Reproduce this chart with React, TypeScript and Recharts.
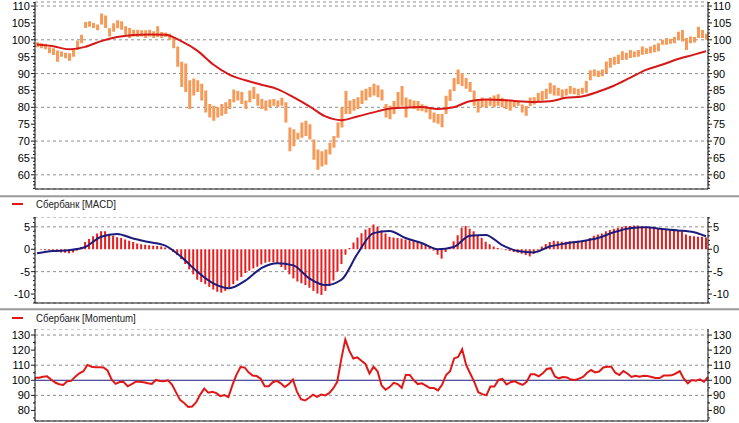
import { Bar, CartesianGrid, ComposedChart, Line, ReferenceLine, XAxis, YAxis } from "recharts";

// trading-day index 0..167, month boundaries for the vertical grid
const MONTH_TICKS = [4, 17, 30, 43, 55, 68, 81, 93, 106, 119, 131, 144, 156];

const PRICE_LOW = [
  97.8, 97.5, 97.2, 96.0, 95.5, 93.5, 95.0, 94.5, 93.8, 95.0, 97.0, 99.0, 103.5, 103.9, 103.5, 102.8,
  104.5, 103.5, 101.0, 102.4, 103.4, 103.0, 101.5, 100.5, 101.0, 100.8, 101.0, 100.5, 101.0, 100.5,
  100.8, 100.5, 100.8, 100.0, 97.5, 92.0, 86.0, 84.5, 79.5, 83.5, 84.5, 82.0, 78.5, 77.0, 76.0, 77.0,
  77.5, 78.0, 79.5, 81.5, 82.0, 81.0, 79.5, 81.5, 82.5, 80.5, 79.5, 79.0, 80.0, 80.5, 80.0, 80.5,
  75.5, 67.0, 68.5, 70.5, 71.0, 71.5, 70.5, 64.5, 61.5, 62.5, 63.0, 66.0, 68.0, 71.0, 74.0, 78.0,
  78.0, 79.0, 79.5, 81.0, 82.0, 83.0, 83.5, 83.0, 82.0, 77.0, 76.5, 78.0, 80.0, 80.5, 77.0, 80.0,
  79.5, 79.0, 78.8, 78.5, 76.5, 75.5, 75.1, 74.1, 78.0, 81.9, 84.8, 86.8, 86.3, 85.5, 84.5, 80.5,
  78.5, 80.0, 80.0, 80.5, 80.0, 80.5, 80.0, 79.5, 79.0, 80.0, 80.5, 78.5, 77.5, 80.4, 80.8, 81.9,
  82.0, 82.5, 84.0, 83.5, 83.4, 82.9, 83.5, 84.0, 83.9, 83.5, 84.0, 84.3, 88.0, 89.2, 89.0, 89.2,
  90.2, 91.7, 92.6, 92.8, 94.0, 94.1, 94.6, 94.8, 95.0, 95.6, 95.8, 96.0, 96.3, 96.6, 98.5, 98.5,
  98.8, 99.0, 100.0, 99.5, 97.0, 99.0, 99.2, 100.5, 100.5, 100.0,
];

const PRICE_HIGH = [
  99.3, 99.0, 98.8, 97.8, 97.5, 96.8, 96.5, 96.2, 96.0, 97.5, 99.8, 101.5, 105.3, 105.5, 105.0, 104.5,
  107.8, 107.2, 103.4, 104.9, 105.8, 105.5, 104.0, 103.5, 103.0, 103.0, 102.8, 102.8, 103.0, 102.5,
  104.0, 102.3, 102.2, 101.8, 100.5, 98.0, 93.5, 93.0, 88.0, 88.5, 88.0, 87.0, 85.0, 81.0, 80.5, 80.0,
  81.0, 81.5, 82.5, 85.3, 84.8, 84.5, 82.0, 85.0, 86.0, 84.0, 82.5, 82.0, 82.3, 82.5, 82.0, 82.8,
  81.5, 74.0, 73.5, 72.5, 75.5, 76.0, 75.0, 70.5, 67.5, 67.0, 67.5, 69.5, 71.5, 75.5, 80.0, 84.8,
  82.0, 82.5, 83.0, 85.0, 85.5, 86.0, 87.0, 86.5, 85.3, 81.0, 80.5, 81.9, 84.5, 86.3, 82.9, 82.4,
  82.0, 81.9, 80.9, 80.5, 80.0, 78.5, 78.0, 78.0, 83.4, 85.3, 88.7, 91.2, 90.2, 88.7, 87.5, 85.0,
  82.5, 82.9, 82.5, 83.0, 83.5, 83.9, 82.8, 82.4, 82.0, 82.0, 81.8, 80.8, 80.4, 82.9, 83.0, 84.3,
  84.8, 85.5, 87.3, 86.5, 85.8, 85.3, 85.5, 86.3, 85.8, 85.5, 85.8, 87.8, 91.0, 91.2, 90.8, 91.2,
  93.6, 94.6, 95.0, 95.6, 96.6, 96.2, 97.0, 96.5, 97.0, 98.0, 97.5, 98.0, 98.5, 99.0, 100.0, 100.5,
  100.3, 100.8, 102.4, 102.9, 100.5, 101.0, 100.8, 103.9, 102.9, 101.8,
];

// smooth lines are read every 4th day
const SAMPLE_IDX = [
  0, 4, 8, 12, 16, 20, 24, 28, 32, 36, 40, 44, 48, 52, 56, 60, 64, 68, 72, 76, 80, 84,
  88, 92, 96, 100, 104, 108, 112, 116, 120, 124, 128, 132, 136, 140, 144, 148, 152, 156, 160, 164, 167,
];

const PRICE_MA = [
  98.6, 98.1, 97.2, 97.9, 99.6, 100.8, 101.4, 101.6, 101.5, 99.6, 96.8, 92.7, 89.7, 88.0, 86.7, 85.4,
  83.0, 80.3, 77.3, 76.2, 77.3, 78.5, 79.6, 79.9, 80.1, 79.5, 80.0, 81.8, 82.3, 82.2, 81.8, 81.6,
  81.8, 82.8, 83.2, 84.6, 86.4, 88.7, 91.1, 92.6, 94.3, 95.6, 96.6,
];

const MACD_LINE = [
  -0.9, -0.4, -0.2, 0.5, 2.8, 3.4, 2.4, 1.6, 0.8, -1.7, -5.0, -7.6, -8.7, -7.0, -4.2, -3.1,
  -3.6, -6.5, -8.0, -6.8, -1.0, 3.6, 4.1, 2.5, 1.4, 0.0, 0.5, 3.0, 3.2, 1.0, -0.4, -0.7,
  0.6, 1.3, 1.8, 2.5, 3.8, 4.7, 4.9, 4.5, 4.2, 3.8, 2.9,
];

const MACD_HIST = [
  0.0, -0.1, -0.2, -0.2, -0.4, -0.5, -0.7, -0.8, -0.9, -0.7, -0.3, 0.5, 1.6, 2.3, 2.9, 3.5,
  4.0, 4.0, 3.3, 3.0, 2.7, 2.5, 2.2, 1.9, 1.6, 1.3, 1.1, 1.0, 0.9, 0.8, 0.7, 0.6,
  0.4, 0.1, -0.6, -1.3, -2.2, -3.3, -4.5, -5.6, -6.8, -7.3, -7.8, -8.4, -9.0, -9.5, -9.7, -9.3,
  -8.5, -7.8, -7.0, -6.2, -5.3, -4.8, -4.3, -3.9, -3.4, -3.0, -2.8, -2.9, -3.3, -4.0, -4.6, -5.6,
  -6.5, -7.2, -7.6, -8.0, -8.6, -9.3, -9.9, -10.2, -9.3, -8.2, -7.0, -5.0, -3.3, -1.2, 0.3, 1.5,
  2.6, 3.6, 4.4, 4.8, 5.5, 5.0, 4.2, 3.5, 2.8, 2.6, 2.5, 2.4, 2.2, 2.0, 1.8, 1.6,
  1.3, 1.0, 0.6, -0.3, -1.2, -2.1, -0.6, 0.5, 1.8, 3.1, 4.8, 5.2, 4.6, 4.0, 3.2, 2.5,
  1.7, 1.1, 0.6, 0.3, 0.1, -0.2, -0.4, -0.6, -0.8, -1.0, -1.3, -1.6, -1.0, -0.2, 0.6, 1.2,
  1.6, 1.9, 1.8, 1.7, 1.7, 1.8, 1.8, 1.9, 1.9, 2.0, 2.5, 3.0, 3.3, 3.5, 4.0, 4.3,
  4.6, 4.8, 5.0, 5.2, 5.2, 5.3, 5.3, 5.2, 5.1, 4.9, 4.7, 4.6, 4.5, 4.4, 4.3, 4.3,
  4.2, 4.0, 3.3, 3.0, 2.9, 2.8, 2.8, 2.6,
];

const MOMENTUM = [
  101.7, 101.7, 102.4, 102.6, 100.5, 98.5, 97.4, 96.9, 99.4, 99.6, 102.4, 104.6, 106.0, 110.2, 109.0, 108.6,
  108.6, 108.5, 106.5, 100.5, 97.6, 98.8, 98.8, 96.0, 97.4, 99.1, 99.0, 98.7, 98.0, 97.6, 100.2, 99.5,
  99.3, 100.0, 97.2, 92.0, 87.0, 85.0, 82.3, 82.6, 85.5, 90.5, 94.5, 91.8, 92.4, 91.5, 89.5, 90.2,
  88.8, 96.9, 103.8, 108.8, 108.5, 105.3, 103.1, 102.8, 101.0, 96.0, 96.0, 98.7, 99.6, 98.0, 95.6, 97.5,
  100.5, 92.5, 87.4, 86.6, 88.4, 90.5, 89.0, 90.5, 90.0, 91.5, 94.6, 99.0, 114.0, 127.0, 119.5, 114.4,
  115.2, 113.0, 110.8, 104.5, 109.0, 106.0, 96.5, 93.7, 95.5, 98.3, 97.5, 95.0, 103.5, 103.5, 100.0, 97.5,
  98.0, 96.5, 94.8, 94.8, 93.3, 97.0, 103.5, 106.0, 114.5, 115.5, 120.5, 110.0, 104.5, 99.0, 92.1, 90.8,
  90.0, 95.8, 95.8, 100.2, 100.9, 97.2, 98.7, 99.4, 98.0, 96.9, 99.0, 104.0, 104.0, 102.6, 104.6, 107.5,
  108.0, 102.5, 101.3, 102.2, 101.9, 100.5, 100.2, 101.1, 102.2, 105.0, 106.8, 105.2, 105.8, 108.5, 109.0, 109.0,
  105.0, 103.5, 106.1, 104.5, 102.2, 103.0, 102.4, 103.0, 102.8, 102.2, 101.5, 101.5, 103.1, 103.1, 103.3, 104.5,
  106.0, 101.0, 98.0, 100.2, 99.7, 100.6, 99.0, 102.2,
];

const PRICE_TICKS = [60, 65, 70, 75, 80, 85, 90, 95, 100, 105, 110];
const MACD_TICKS = [-10, -5, 0, 5];
const MOM_TICKS = [80, 90, 100, 110, 120, 130];

const PRICE_DOMAIN: [number, number] = [55.8, 111.2];
const MACD_DOMAIN: [number, number] = [-12, 7.2];
const MOM_DOMAIN: [number, number] = [73, 134];

function steps(from: number, to: number, step: number): number[] {
  const out: number[] = [];
  for (let v = from; v <= to + 1e-9; v += step) out.push(Math.round(v * 100) / 100);
  return out;
}

const rows = PRICE_LOW.map((lo, i) => {
  const k = SAMPLE_IDX.indexOf(i);
  return {
    i,
    range: [lo, PRICE_HIGH[i]],
    ma: k >= 0 ? PRICE_MA[k] : null,
    macd: k >= 0 ? MACD_LINE[k] : null,
    hist: MACD_HIST[i],
    mom: MOMENTUM[i],
  };
});

const FONT = "'Liberation Sans', Arial, sans-serif";
const W = 739;
const LEFT_W = 35;
const RIGHT_W = 31;
const GRID = "#8e8e8e";
const AXIS = "#1a1a1a";

// tick with a short mark for minor values and a label for major ones
function AxisTick(props: any) {
  const { x, y, payload, side, major } = props;
  const v = payload.value as number;
  const isMajor = Math.abs(v / major - Math.round(v / major)) < 1e-6;
  const left = side === "left";
  const edge = left ? x + 6 : x - 6;
  const len = isMajor ? 4 : 2;
  return (
    <g>
      <line x1={edge} x2={left ? edge - len : edge + len} y1={y} y2={y} stroke={AXIS} />
      {isMajor && (
        <text
          x={left ? x + 1 : x - 1}
          y={y}
          dy="0.36em"
          textAnchor={left ? "end" : "start"}
          fontFamily={FONT}
          fontSize={11}
          fill="#000"
        >
          {v}
        </text>
      )}
    </g>
  );
}

function Legend({ top, label }: { top: number; label: string }) {
  return (
    <div style={{ position: "absolute", left: 0, top, height: 14, width: 300 }}>
      <div style={{ position: "absolute", left: 12, top: 6, width: 11, height: 2, background: "#e01818" }} />
      <div
        style={{
          position: "absolute",
          left: 36,
          top: 0,
          fontFamily: FONT,
          fontSize: 11.5,
          lineHeight: "14px",
          color: "#222",
          whiteSpace: "nowrap",
          transform: "scaleX(0.84)",
          transformOrigin: "0 50%",
        }}
      >
        {label}
      </div>
    </div>
  );
}

function Separator({ top }: { top: number }) {
  return (
    <div style={{ position: "absolute", left: 0, top, width: W, height: 3 }}>
      <div style={{ height: 1, background: "#b4b4b4" }} />
      <div style={{ height: 1, background: "#9a9a9a" }} />
      <div style={{ height: 1, background: "#e2e2e2" }} />
    </div>
  );
}

export default function App() {
  const priceMinor = steps(56, 111, 1);
  const macdMinor = steps(-12, 7, 1);
  const momMinor = steps(75, 130, 5);

  return (
    <div
      style={{
        position: "absolute",
        left: 0,
        top: 0,
        width: W,
        height: 423,
        overflow: "hidden",
        background: "#fff",
      }}
    >
      <div style={{ position: "absolute", left: 0, top: -3 }}>
        <ComposedChart width={W} height={197} data={rows} margin={{ top: 5, right: 0, bottom: 0, left: 0 }}>
          <CartesianGrid yAxisId="g" stroke={GRID} strokeDasharray="3 3" />
          <XAxis
            dataKey="i"
            ticks={MONTH_TICKS}
            interval={0}
            tick={false}
            tickSize={3}
            height={5}
            axisLine={{ stroke: AXIS }}
            tickLine={{ stroke: AXIS }}
          />
          <YAxis
            yAxisId="l"
            orientation="left"
            width={LEFT_W}
            type="number"
            domain={PRICE_DOMAIN}
            ticks={priceMinor}
            interval={0}
            allowDataOverflow
            tickLine={false}
            tickSize={4}
            tickMargin={2}
            axisLine={{ stroke: AXIS }}
            tick={<AxisTick side="left" major={5} />}
          />
          <YAxis
            yAxisId="r"
            orientation="right"
            width={RIGHT_W}
            type="number"
            domain={PRICE_DOMAIN}
            ticks={priceMinor}
            interval={0}
            allowDataOverflow
            tickLine={false}
            tickSize={4}
            tickMargin={2}
            axisLine={{ stroke: AXIS }}
            tick={<AxisTick side="right" major={5} />}
          />
          <YAxis yAxisId="g" hide width={0} orientation="right" type="number" domain={PRICE_DOMAIN} ticks={PRICE_TICKS} allowDataOverflow />
          <Bar yAxisId="l" dataKey="range" fill="#f79a58" barSize={3} isAnimationActive={false} />
          <Line
            yAxisId="l"
            dataKey="ma"
            type="monotone"
            stroke="#d61818"
            strokeWidth={2}
            dot={false}
            connectNulls
            isAnimationActive={false}
          />
        </ComposedChart>
      </div>

      <Separator top={195} />
      <Legend top={197} label="Сбербанк [MACD]" />

      <div style={{ position: "absolute", left: 0, top: 217 }}>
        <ComposedChart width={W} height={91} data={rows} margin={{ top: 0, right: 0, bottom: 0, left: 0 }}>
          <CartesianGrid yAxisId="g" stroke={GRID} strokeDasharray="3 3" />
          <XAxis
            dataKey="i"
            ticks={MONTH_TICKS}
            interval={0}
            tick={false}
            tickSize={3}
            height={5}
            axisLine={{ stroke: AXIS }}
            tickLine={{ stroke: AXIS }}
          />
          <XAxis
            xAxisId="top"
            orientation="top"
            dataKey="i"
            height={0}
            tick={false}
            tickLine={false}
            axisLine={{ stroke: AXIS }}
          />
          <YAxis
            yAxisId="l"
            orientation="left"
            width={LEFT_W}
            type="number"
            domain={MACD_DOMAIN}
            ticks={macdMinor}
            interval={0}
            allowDataOverflow
            tickLine={false}
            tickSize={4}
            tickMargin={2}
            axisLine={{ stroke: AXIS }}
            tick={<AxisTick side="left" major={5} />}
          />
          <YAxis
            yAxisId="r"
            orientation="right"
            width={RIGHT_W}
            type="number"
            domain={MACD_DOMAIN}
            ticks={macdMinor}
            interval={0}
            allowDataOverflow
            tickLine={false}
            tickSize={4}
            tickMargin={2}
            axisLine={{ stroke: AXIS }}
            tick={<AxisTick side="right" major={5} />}
          />
          <YAxis yAxisId="g" hide width={0} orientation="right" type="number" domain={MACD_DOMAIN} ticks={MACD_TICKS} allowDataOverflow />
          <Bar yAxisId="l" dataKey="hist" fill="#e81c1c" barSize={2} isAnimationActive={false} />
          <Line
            yAxisId="l"
            dataKey="macd"
            type="monotone"
            stroke="#1c1c7c"
            strokeWidth={2}
            dot={false}
            connectNulls
            isAnimationActive={false}
          />
        </ComposedChart>
      </div>

      <Separator top={308} />
      <Legend top={311} label="Сбербанк [Momentum]" />

      <div style={{ position: "absolute", left: 0, top: 329 }}>
        <ComposedChart width={W} height={97} data={rows} margin={{ top: 0, right: 0, bottom: 0, left: 0 }}>
          <CartesianGrid yAxisId="g" stroke={GRID} strokeDasharray="3 3" />
          <XAxis
            dataKey="i"
            ticks={MONTH_TICKS}
            interval={0}
            tick={false}
            tickSize={3}
            height={5}
            axisLine={{ stroke: AXIS }}
            tickLine={{ stroke: AXIS }}
          />
          <XAxis
            xAxisId="top"
            orientation="top"
            dataKey="i"
            height={0}
            tick={false}
            tickLine={false}
            axisLine={{ stroke: AXIS }}
          />
          <YAxis
            yAxisId="l"
            orientation="left"
            width={LEFT_W}
            type="number"
            domain={MOM_DOMAIN}
            ticks={momMinor}
            interval={0}
            allowDataOverflow
            tickLine={false}
            tickSize={4}
            tickMargin={2}
            axisLine={{ stroke: AXIS }}
            tick={<AxisTick side="left" major={10} />}
          />
          <YAxis
            yAxisId="r"
            orientation="right"
            width={RIGHT_W}
            type="number"
            domain={MOM_DOMAIN}
            ticks={momMinor}
            interval={0}
            allowDataOverflow
            tickLine={false}
            tickSize={4}
            tickMargin={2}
            axisLine={{ stroke: AXIS }}
            tick={<AxisTick side="right" major={10} />}
          />
          <YAxis yAxisId="g" hide width={0} orientation="right" type="number" domain={MOM_DOMAIN} ticks={MOM_TICKS} allowDataOverflow />
          <ReferenceLine yAxisId="l" y={100} stroke="#1c1c7c" strokeWidth={1} />
          <Line
            yAxisId="l"
            dataKey="mom"
            type="linear"
            stroke="#e01818"
            strokeWidth={2}
            dot={false}
            isAnimationActive={false}
          />
        </ComposedChart>
      </div>
    </div>
  );
}
